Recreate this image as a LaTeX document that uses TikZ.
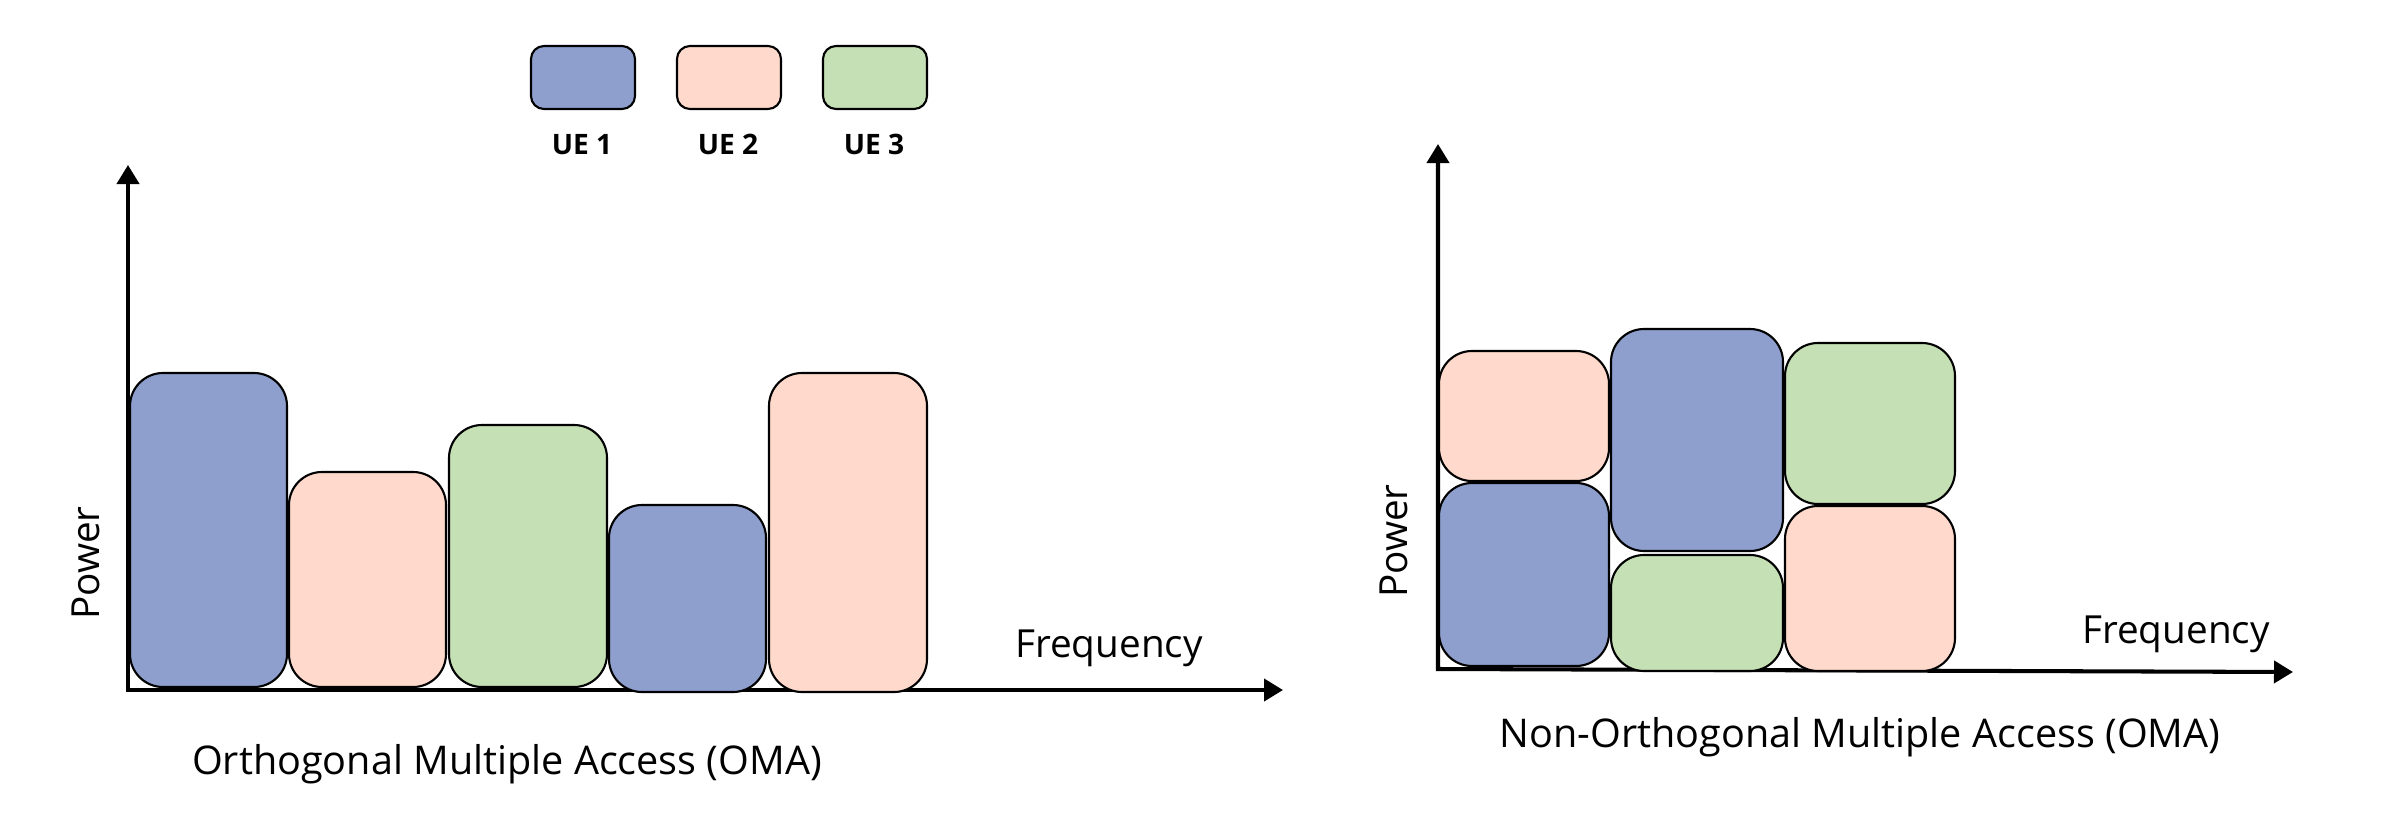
\documentclass[tikz,border=0pt]{standalone}
\usepackage{fontspec}
\setmainfont{Open Sans}
\usetikzlibrary{arrows.meta}
\definecolor{ueblue}{RGB}{142,159,205}
\definecolor{uepink}{RGB}{255,218,204}
\definecolor{uegreen}{RGB}{197,224,180}
\tikzset{
  axis/.style={line width=1.15pt, {Triangle[length=0.19cm,width=0.22cm]}-{Triangle[length=0.19cm,width=0.22cm]}},
  bar/.style={draw=black, line width=0.6pt, rounded corners=0.33cm},
  key/.style={draw=black, line width=0.6pt, rounded corners=0.13cm},
  lbl/.style={font=\fontsize{11}{13}\selectfont, inner sep=0pt},
  titlelbl/.style={font=\fontsize{11.25}{13}\selectfont, inner sep=0pt},
  keylbl/.style={font=\fontsize{8}{10}\selectfont\bfseries, inner sep=0pt},
}

\begin{document}
\begin{tikzpicture}[x=0.01cm, y=-0.01cm]
			\useasboundingbox (0,0) rectangle (2408,830);
			%%%%% LEGEND %%%%%
			
			\draw[key, fill=ueblue] (531,46) rectangle (635,109);
			\draw[key, fill=uepink] (677,46) rectangle (781,109);
			\draw[key, fill=uegreen] (823,46) rectangle (927,109);
			\node[keylbl, anchor=base] (ue1) at (582,154) {UE 1};
			\node[keylbl, anchor=base] (ue2) at (728,154) {UE 2};
			\node[keylbl, anchor=base] (ue3) at (874,154) {UE 3};
			
			%%%%% OMA %%%%%
			
			\coordinate (oma-o) at (128,690);
			\coordinate (oma-y) at (128,165);
			\coordinate (oma-x) at (1283,690);
			\draw[axis] (oma-y) -- (oma-o) -- (oma-x);
			
			\draw[bar, fill=ueblue] (130,373) rectangle (287,687);
			\draw[bar, fill=uepink] (289,472) rectangle (446,687);
			\draw[bar, fill=uegreen] (449,425) rectangle (607,687);
			\draw[bar, fill=ueblue] (609,505) rectangle (766,692);
			\draw[bar, fill=uepink] (769,373) rectangle (927,692);
			
			\node[lbl, anchor=base, rotate=90] (oma-pow) at (100,563) {Power};
			\node[lbl, anchor=base] (oma-freq) at (1109,657) {Frequency};
			\node[titlelbl, anchor=base] (oma-title) at (507,774) {Orthogonal Multiple Access (OMA)};
			
			%%%%% NOMA %%%%%
			
			\coordinate (noma-o) at (1438,669);
			\coordinate (noma-y) at (1438,144);
			\coordinate (noma-x) at (2293,672);
			\draw[axis] (noma-y) -- (noma-o) -- (noma-x);
			
			\draw[bar, fill=uepink] (1439,351) rectangle (1609,481);
			\draw[bar, fill=ueblue] (1439,483) rectangle (1609,666);
			\draw[bar, fill=ueblue] (1611,329) rectangle (1783,551);
			\draw[bar, fill=uegreen] (1611,555) rectangle (1783,671);
			\draw[bar, fill=uegreen] (1785,343) rectangle (1955,504);
			\draw[bar, fill=uepink] (1785,506) rectangle (1955,671);
			
			\node[lbl, anchor=base, rotate=90] (noma-pow) at (1407,541) {Power};
			\node[lbl, anchor=base] (noma-freq) at (2176,643) {Frequency};
			\node[titlelbl, anchor=base] (noma-title) at (1860,747) {Non-Orthogonal Multiple Access (OMA)};
			
			%%%%% END %%%%%
\end{tikzpicture}
\end{document}
